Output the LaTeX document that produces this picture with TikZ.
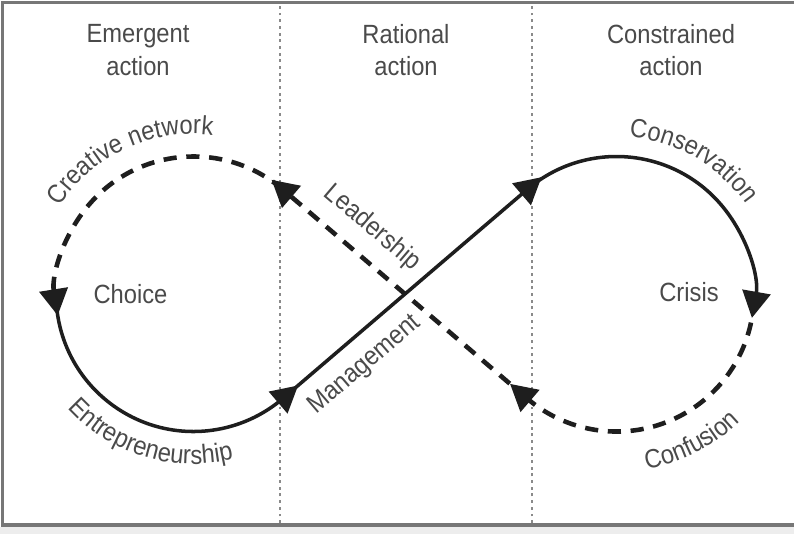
\documentclass[tikz,border=0pt]{standalone}
\usepackage{fontspec}
\setmainfont{Liberation Sans}[FakeStretch=0.9]
\usepackage{xcolor}
\usepackage{tikz}
\usetikzlibrary{arrows.meta,calc,decorations.text}

\definecolor{inkgray}{HTML}{1E1E1E}
\definecolor{txtgray}{HTML}{4A4A4A}
\definecolor{dotgray}{HTML}{8A8A8A}
\definecolor{framegray}{HTML}{777777}
\newcommand{\arclabel}{\fontsize{15}{18.5}\selectfont\color{txtgray}}

\begin{document}
\begin{tikzpicture}[
    solidarc/.style={line width=2pt, draw=inkgray},
    dasharc/.style={line width=2.6pt, draw=inkgray, dash pattern=on 7.5pt off 5.5pt},
    bigtip/.style={-{Triangle[length=15pt,width=16pt]}},
    lbl/.style={font=\fontsize{15}{18.5}\selectfont, text=txtgray},
    divider/.style={draw=dotgray, line width=1.4pt, dash pattern=on 1.6pt off 2.2pt}
]
        \useasboundingbox (0,0) rectangle (15.88,10.68);

        % Frame
        \fill[black!7] (0,0) rectangle (15.88,0.14);
        \draw[framegray, line width=2pt] (15.88,10.63) -- (0.05,10.63) -- (0.05,0.18) -- (15.88,0.18);

        % Columns
        \draw[divider] (5.6,0.22) -- (5.6,10.58);
        \draw[divider] (10.64,0.22) -- (10.64,10.58);

        \node[lbl, align=center] (hEmergent) at (2.76,9.68) {Emergent\\action};
        \node[lbl, align=center] (hRational) at (8.12,9.68) {Rational\\action};
        \node[lbl, align=center] (hConstrained) at (13.42,9.68) {Constrained\\action};

        % Loop centres and tangent points
        \coordinate (lc) at (3.87,4.8);
        \coordinate (rc) at (12.33,4.8);
        \coordinate (cA) at (1.144,4.441);
        \coordinate (tA) at (5.658,2.711);
        \coordinate (tB) at (10.542,6.889);
        \coordinate (cB) at (15.020,4.228);
        \coordinate (tC) at (10.542,2.711);
        \coordinate (tD) at (5.658,6.889);

        % Solid half
        \draw[solidarc, bigtip] (cA) arc[start angle=187.5, end angle=310.56, radius=2.75] -- ++(40.56:0.4);
        \draw[solidarc, bigtip] (tA) -- ($(tB)+(40.56:0.38)$);
        \draw[solidarc, bigtip] (tB) arc[start angle=130.56, end angle=-10, radius=2.75];

        % Dashed half
        \draw[dasharc, bigtip] (cB) arc[start angle=-12, end angle=-130.56, radius=2.75] -- ++(139.44:0.45);
        \draw[dasharc, bigtip] (tC) -- ($(tD)+(139.44:0.3)$);
        \draw[dasharc, bigtip] (tD) arc[start angle=49.44, end angle=189, radius=2.75];

        % Labels
        \node[lbl] (choice) at (2.61,4.8) {Choice};
        \node[lbl] (crisis) at (13.78,4.83) {Crisis};
        \node[lbl, rotate=-40.56] (leadership) at (7.44,6.12) {Leadership};
        \node[lbl, rotate=40.56] (management) at (7.3,3.38) {Management};

        \path[decorate, decoration={text along path, text align=center, text={|\arclabel|Creative network}}]
            ([shift={(160:3.2)}]lc) arc[start angle=160, end angle=70, radius=3.2];
        \path[decorate, decoration={text along path, text align=center, text={|\arclabel|Entrepreneurship}}]
            ([shift={(213:3.4)}]lc) arc[start angle=213, end angle=293, radius=3.4];
        \path[decorate, decoration={text along path, text align=center, text={|\arclabel|Conservation}}]
            ([shift={(100:3.15)}]rc) arc[start angle=100, end angle=20, radius=3.15];
        \path[decorate, decoration={text along path, text align=center, text={|\arclabel|Confusion}}]
            ([shift={(272:3.55)}]rc) arc[start angle=272, end angle=322, radius=3.55];
\end{tikzpicture}
\end{document}
